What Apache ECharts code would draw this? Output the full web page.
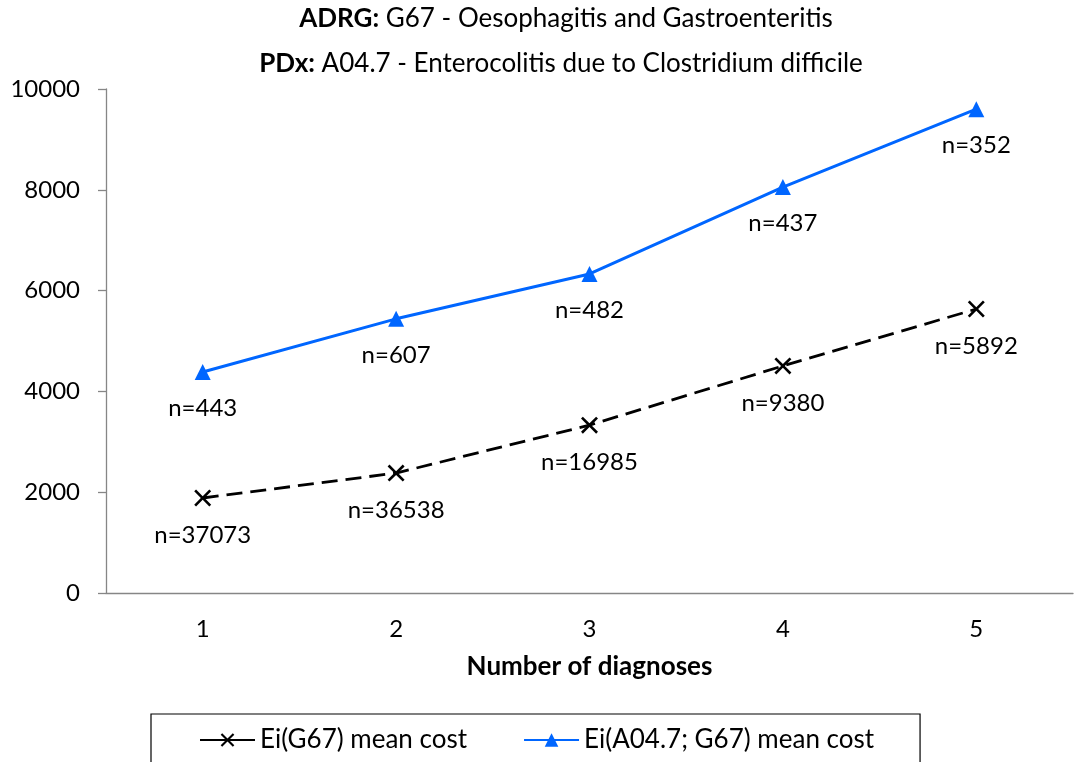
<!DOCTYPE html>
<html>
<head>
<meta charset="utf-8">
<script src="https://cdn.jsdelivr.net/npm/echarts@6/dist/echarts.min.js"></script>
<style>html,body{margin:0;padding:0;background:#fff}#c{width:1077px;height:762px}</style>
</head>
<body>
<div id="c"></div>
<script>
var categories = ['1', '2', '3', '4', '5'];
var seriesNames = ['Ei(G67) mean cost', 'Ei(A04.7; G67) mean cost'];
var g67Mean = [1885, 2380, 3330, 4505, 5635];
var a047Mean = [4385, 5440, 6330, 8055, 9600];
var g67N = ['n=37073', 'n=36538', 'n=16985', 'n=9380', 'n=5892'];
var a047N = ['n=443', 'n=607', 'n=482', 'n=437', 'n=352'];
var titleLine1 = ['ADRG:', ' G67 - Oesophagitis and Gastroenteritis'];
var titleLine2 = ['PDx:', ' A04.7 - Enterocolitis due to Clostridium difficile'];
var xAxisName = 'Number of diagnoses';

var FONT = 'Lato';
var chart = echarts.init(document.getElementById('c'), null, {renderer: 'canvas'});
var xPath = 'path://M0,1.1 L1.1,0 L5,3.9 L8.9,0 L10,1.1 L6.1,5 L10,8.9 L8.9,10 L5,6.1 L1.1,10 L0,8.9 L3.9,5 Z';

function mk(vals, labels) {
  return vals.map(function (v, i) { return {value: v, label: {formatter: labels[i]}}; });
}
var titleRich = {
  b: {fontFamily: FONT, fontWeight: 'bold', fontSize: 26, color: '#000'},
  n: {fontFamily: FONT, fontWeight: 'normal', fontSize: 26, color: '#000'}
};

chart.setOption({
  animation: false,
  textStyle: {fontFamily: FONT},
  title: [{
    text: '{b|' + titleLine1[0] + '}{n|' + titleLine1[1] + '}',
    left: 561, top: 1, textAlign: 'center',
    textStyle: {fontWeight: 'normal', rich: titleRich}
  }, {
    text: '{b|' + titleLine2[0] + '}{n|' + titleLine2[1] + '}',
    left: 556, top: 46, textAlign: 'center',
    textStyle: {fontWeight: 'normal', rich: titleRich}
  }],
  grid: {left: 106, right: 4, top: 89, bottom: 169, containLabel: false},
  legend: {
    left: 151, top: 714,
    padding: [13, 46, 30, 48],
    borderColor: '#000', borderWidth: 1.2,
    itemWidth: 55, itemHeight: 17, itemGap: 56,
    lineStyle: {type: 'solid'},
    textStyle: {fontFamily: FONT, fontSize: 26, color: '#000'},
    data: seriesNames
  },
  xAxis: {
    type: 'category', data: categories, boundaryGap: true,
    name: xAxisName, nameLocation: 'middle', nameGap: 61,
    nameTextStyle: {fontFamily: FONT, fontWeight: 'bold', fontSize: 26, color: '#000'},
    axisLine: {lineStyle: {color: '#868686', width: 1.3}},
    axisTick: {length: 8, lineStyle: {color: '#868686', width: 1.3}},
    axisLabel: {fontFamily: FONT, fontSize: 24, color: '#000', margin: 24}
  },
  yAxis: {
    type: 'value', min: 0, max: 10000, interval: 2000,
    splitLine: {show: false},
    axisLine: {show: true, lineStyle: {color: '#868686', width: 1.3}},
    axisTick: {show: true, length: 8, lineStyle: {color: '#868686', width: 1.3}},
    axisLabel: {fontFamily: FONT, fontSize: 24, color: '#000', margin: 26, formatter: function (v) { return String(v); }}
  },
  series: [{
    name: seriesNames[0], type: 'line', data: mk(g67Mean, g67N),
    symbol: xPath, symbolSize: 17,
    lineStyle: {color: '#000', width: 2.8, type: [16, 8]},
    itemStyle: {color: '#000'},
    label: {show: true, position: 'inside', offset: [0, 37], fontFamily: FONT, fontSize: 24, color: '#000'}
  }, {
    name: seriesNames[1], type: 'line', data: mk(a047Mean, a047N),
    symbol: 'triangle', symbolSize: 16,
    lineStyle: {color: '#0066FF', width: 3},
    itemStyle: {color: '#0066FF'},
    label: {show: true, position: 'inside', offset: [0, 36], fontFamily: FONT, fontSize: 24, color: '#000'}
  }]
});
</script>
</body>
</html>
